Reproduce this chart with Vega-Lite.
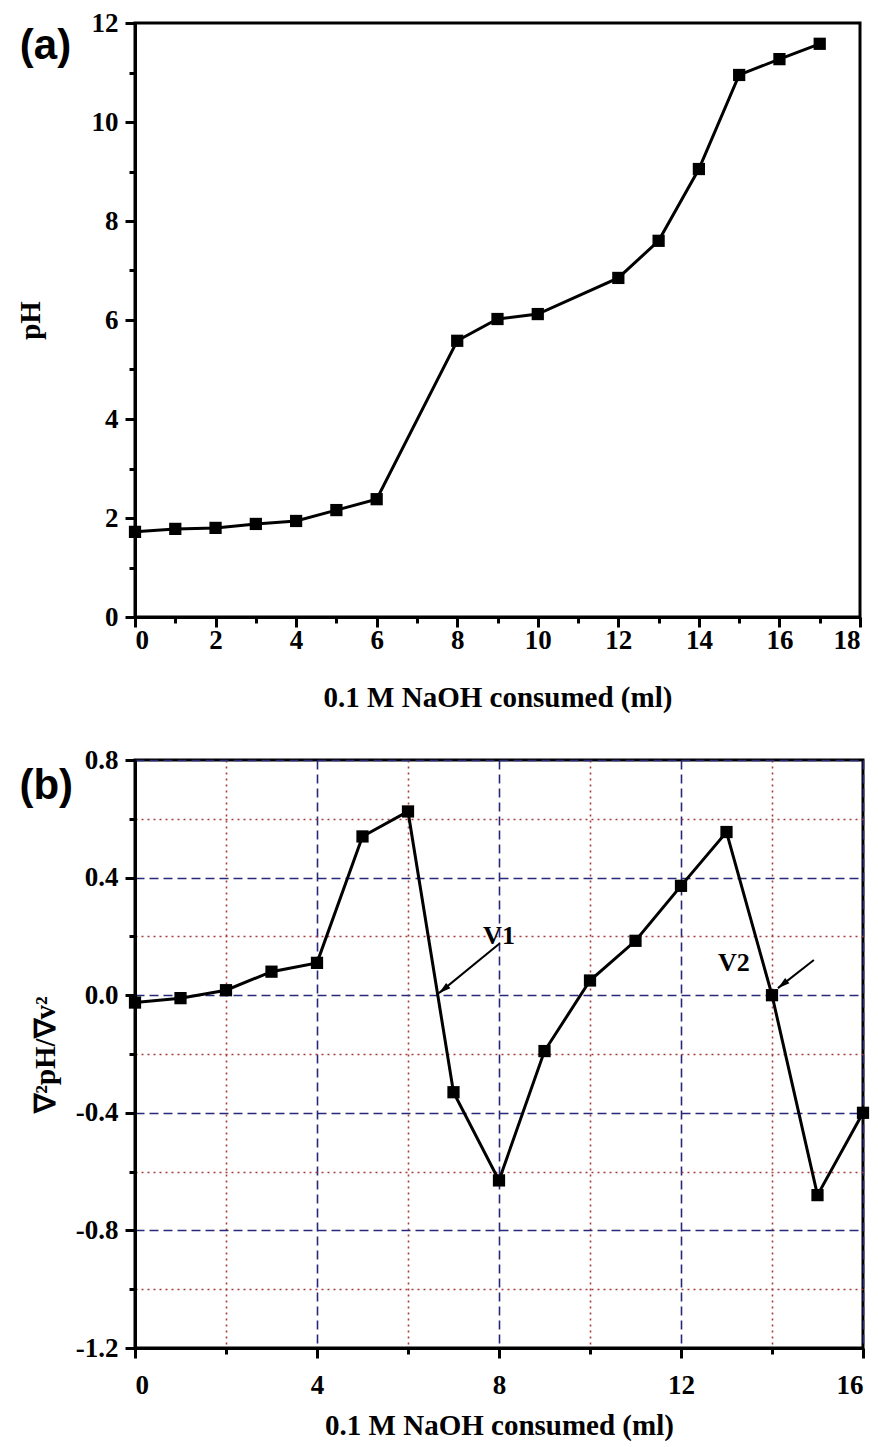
{
  "$schema": "https://vega.github.io/schema/vega-lite/v6.json",
  "padding": {"left": 14, "top": 7, "right": 6, "bottom": 2},
  "spacing": 30,
  "background": "white",
  "config": {
    "view": {"stroke": "black", "strokeWidth": 3},
    "axis": {
      "domainColor": "black", "domainWidth": 3,
      "tickColor": "black", "tickWidth": 3,
      "labelFont": "Liberation Serif", "labelFontWeight": "bold", "labelFontSize": 27, "labelColor": "black",
      "titleFont": "Liberation Serif", "titleFontWeight": "bold", "titleFontSize": 29, "titleColor": "black"
    },
    "axisX": {"labelPadding": 4},
    "axisY": {"labelPadding": 7}
  },
  "vconcat": [
    {
      "width": 725,
      "height": 594,
      "data": {"values": [
        {"v": 0, "pH": 1.72}, {"v": 1, "pH": 1.78}, {"v": 2, "pH": 1.8}, {"v": 3, "pH": 1.88},
        {"v": 4, "pH": 1.94}, {"v": 5, "pH": 2.16}, {"v": 6, "pH": 2.38}, {"v": 8, "pH": 5.58},
        {"v": 9, "pH": 6.02}, {"v": 10, "pH": 6.12}, {"v": 12, "pH": 6.85}, {"v": 13, "pH": 7.6},
        {"v": 14, "pH": 9.05}, {"v": 15, "pH": 10.95}, {"v": 16, "pH": 11.27}, {"v": 17, "pH": 11.58}
      ]},
      "layer": [
        {
          "mark": {"type": "line", "color": "black", "strokeWidth": 3},
          "encoding": {
            "x": {"field": "v", "type": "quantitative", "title": "0.1 M NaOH  consumed (ml)",
              "scale": {"domain": [0, 18], "nice": false},
              "axis": {"values": [0,1,2,3,4,5,6,7,8,9,10,11,12,13,14,15,16,17,18], "grid": false,
                "labelExpr": "datum.value % 2 === 0 ? datum.label : ''",
                "tickSize": {"condition": {"test": "datum.value % 2 === 0", "value": 10}, "value": 6},
                "labelPadding": 0,
                "titlePadding": 30}},
            "y": {"field": "pH", "type": "quantitative", "title": "pH",
              "scale": {"domain": [0, 12], "nice": false},
              "axis": {"values": [0,1,2,3,4,5,6,7,8,9,10,11,12], "grid": false,
                "labelExpr": "datum.value % 2 === 0 ? datum.label : ''",
                "tickSize": {"condition": {"test": "datum.value % 2 === 0", "value": 10}, "value": 6},
                "titlePadding": 46}}
          }
        },
        {
          "mark": {"type": "point", "shape": "square", "filled": true, "color": "black", "size": 150, "opacity": 1},
          "encoding": {
            "x": {"field": "v", "type": "quantitative", "title": "0.1 M NaOH  consumed (ml)"},
            "y": {"field": "pH", "type": "quantitative", "title": "pH"}
          }
        },
        {
          "data": {"values": [{"v": -2.86, "pH": 11.54, "label": "(a)"}]},
          "mark": {"type": "text", "font": "Liberation Sans", "fontWeight": "bold", "fontSize": 42, "align": "left", "baseline": "middle", "color": "black"},
          "encoding": {
            "x": {"field": "v", "type": "quantitative", "title": "0.1 M NaOH  consumed (ml)"},
            "y": {"field": "pH", "type": "quantitative", "title": "pH"},
            "text": {"field": "label"}
          }
        }
      ]
    },
    {
      "width": 728,
      "height": 588,
      "data": {"values": [
        {"v": 0, "d2": -0.025}, {"v": 1, "d2": -0.01}, {"v": 2, "d2": 0.017}, {"v": 3, "d2": 0.08},
        {"v": 4, "d2": 0.11}, {"v": 5, "d2": 0.54}, {"v": 6, "d2": 0.625}, {"v": 7, "d2": -0.33},
        {"v": 8, "d2": -0.63}, {"v": 9, "d2": -0.19}, {"v": 10, "d2": 0.05}, {"v": 11, "d2": 0.185},
        {"v": 12, "d2": 0.372}, {"v": 13, "d2": 0.555}, {"v": 14, "d2": 0.0}, {"v": 15, "d2": -0.68},
        {"v": 16, "d2": -0.4}
      ]},
      "layer": [
        {
          "mark": {"type": "line", "color": "black", "strokeWidth": 3},
          "encoding": {
            "x": {"field": "v", "type": "quantitative", "title": "0.1 M NaOH consumed (ml)",
              "scale": {"domain": [0, 16], "nice": false},
              "axis": {"values": [0,2,4,6,8,10,12,14,16], "grid": true,
                "labelExpr": "datum.value % 4 === 0 ? datum.label : ''",
                "tickSize": {"condition": {"test": "datum.value % 4 === 0", "value": 10}, "value": 6},
                "gridColor": {"condition": {"test": "datum.value % 4 === 0", "value": "#28287a"}, "value": "#a83c3c"},
                "gridDash": {"condition": {"test": "datum.value % 4 === 0", "value": [9, 5]}, "value": [2, 4]},
                "gridWidth": 1.6, "gridOpacity": 1,
                "labelPadding": 14,
                "titlePadding": 13}},
            "y": {"field": "d2", "type": "quantitative", "title": "∇²pH/∇v²",
              "scale": {"domain": [-1.2, 0.8], "nice": false},
              "axis": {"values": [-1.2,-1.0,-0.8,-0.6,-0.4,-0.2,0,0.2,0.4,0.6,0.8], "grid": true,
                "labelExpr": "round(datum.value*10) % 4 === 0 ? replace(format(datum.value, '.1f'), '−', '-') : ''",
                "tickSize": {"condition": {"test": "round(datum.value*10) % 4 === 0", "value": 10}, "value": 6},
                "gridColor": {"condition": {"test": "round(datum.value*10) % 4 === 0", "value": "#28287a"}, "value": "#a83c3c"},
                "gridDash": {"condition": {"test": "round(datum.value*10) % 4 === 0", "value": [9, 5]}, "value": [2, 4]},
                "gridWidth": 1.6, "gridOpacity": 1,
                "titlePadding": 15}}
          }
        },
        {
          "mark": {"type": "point", "shape": "square", "filled": true, "color": "black", "size": 150, "opacity": 1},
          "encoding": {
            "x": {"field": "v", "type": "quantitative", "title": "0.1 M NaOH consumed (ml)"},
            "y": {"field": "d2", "type": "quantitative", "title": "∇²pH/∇v²"}
          }
        },
        {
          "data": {"values": [
            {"v": 8.02, "d2": 0.177, "v_end": 6.68, "d2_end": 0.007},
            {"v": 14.92, "d2": 0.12, "v_end": 14.13, "d2_end": 0.024}
          ]},
          "mark": {"type": "rule", "color": "black", "strokeWidth": 2},
          "encoding": {
            "x": {"field": "v", "type": "quantitative", "title": "0.1 M NaOH consumed (ml)"},
            "y": {"field": "d2", "type": "quantitative", "title": "∇²pH/∇v²"},
            "x2": {"field": "v_end"},
            "y2": {"field": "d2_end"}
          }
        },
        {
          "data": {"values": [
            {"v": 6.68, "d2": 0.007},
            {"v": 14.13, "d2": 0.024}
          ]},
          "mark": {"type": "point", "shape": "M0,0L0.45,1.6L-0.45,1.6Z", "filled": true, "color": "black", "size": 225, "opacity": 1, "angle": 231},
          "encoding": {
            "x": {"field": "v", "type": "quantitative", "title": "0.1 M NaOH consumed (ml)"},
            "y": {"field": "d2", "type": "quantitative", "title": "∇²pH/∇v²"}
          }
        },
        {
          "data": {"values": [
            {"v": 8.0, "d2": 0.2, "label": "V1"},
            {"v": 13.16, "d2": 0.11, "label": "V2"}
          ]},
          "mark": {"type": "text", "font": "Liberation Serif", "fontWeight": "bold", "fontSize": 26, "color": "black", "align": "center", "baseline": "middle"},
          "encoding": {
            "x": {"field": "v", "type": "quantitative", "title": "0.1 M NaOH consumed (ml)"},
            "y": {"field": "d2", "type": "quantitative", "title": "∇²pH/∇v²"},
            "text": {"field": "label"}
          }
        },
        {
          "data": {"values": [
            {"v": -2.54, "d2": 0.712, "label": "(b)"}
          ]},
          "mark": {"type": "text", "font": "Liberation Sans", "fontWeight": "bold", "fontSize": 42, "color": "black", "align": "left", "baseline": "middle"},
          "encoding": {
            "x": {"field": "v", "type": "quantitative", "title": "0.1 M NaOH consumed (ml)"},
            "y": {"field": "d2", "type": "quantitative", "title": "∇²pH/∇v²"},
            "text": {"field": "label"}
          }
        }
      ]
    }
  ]
}
